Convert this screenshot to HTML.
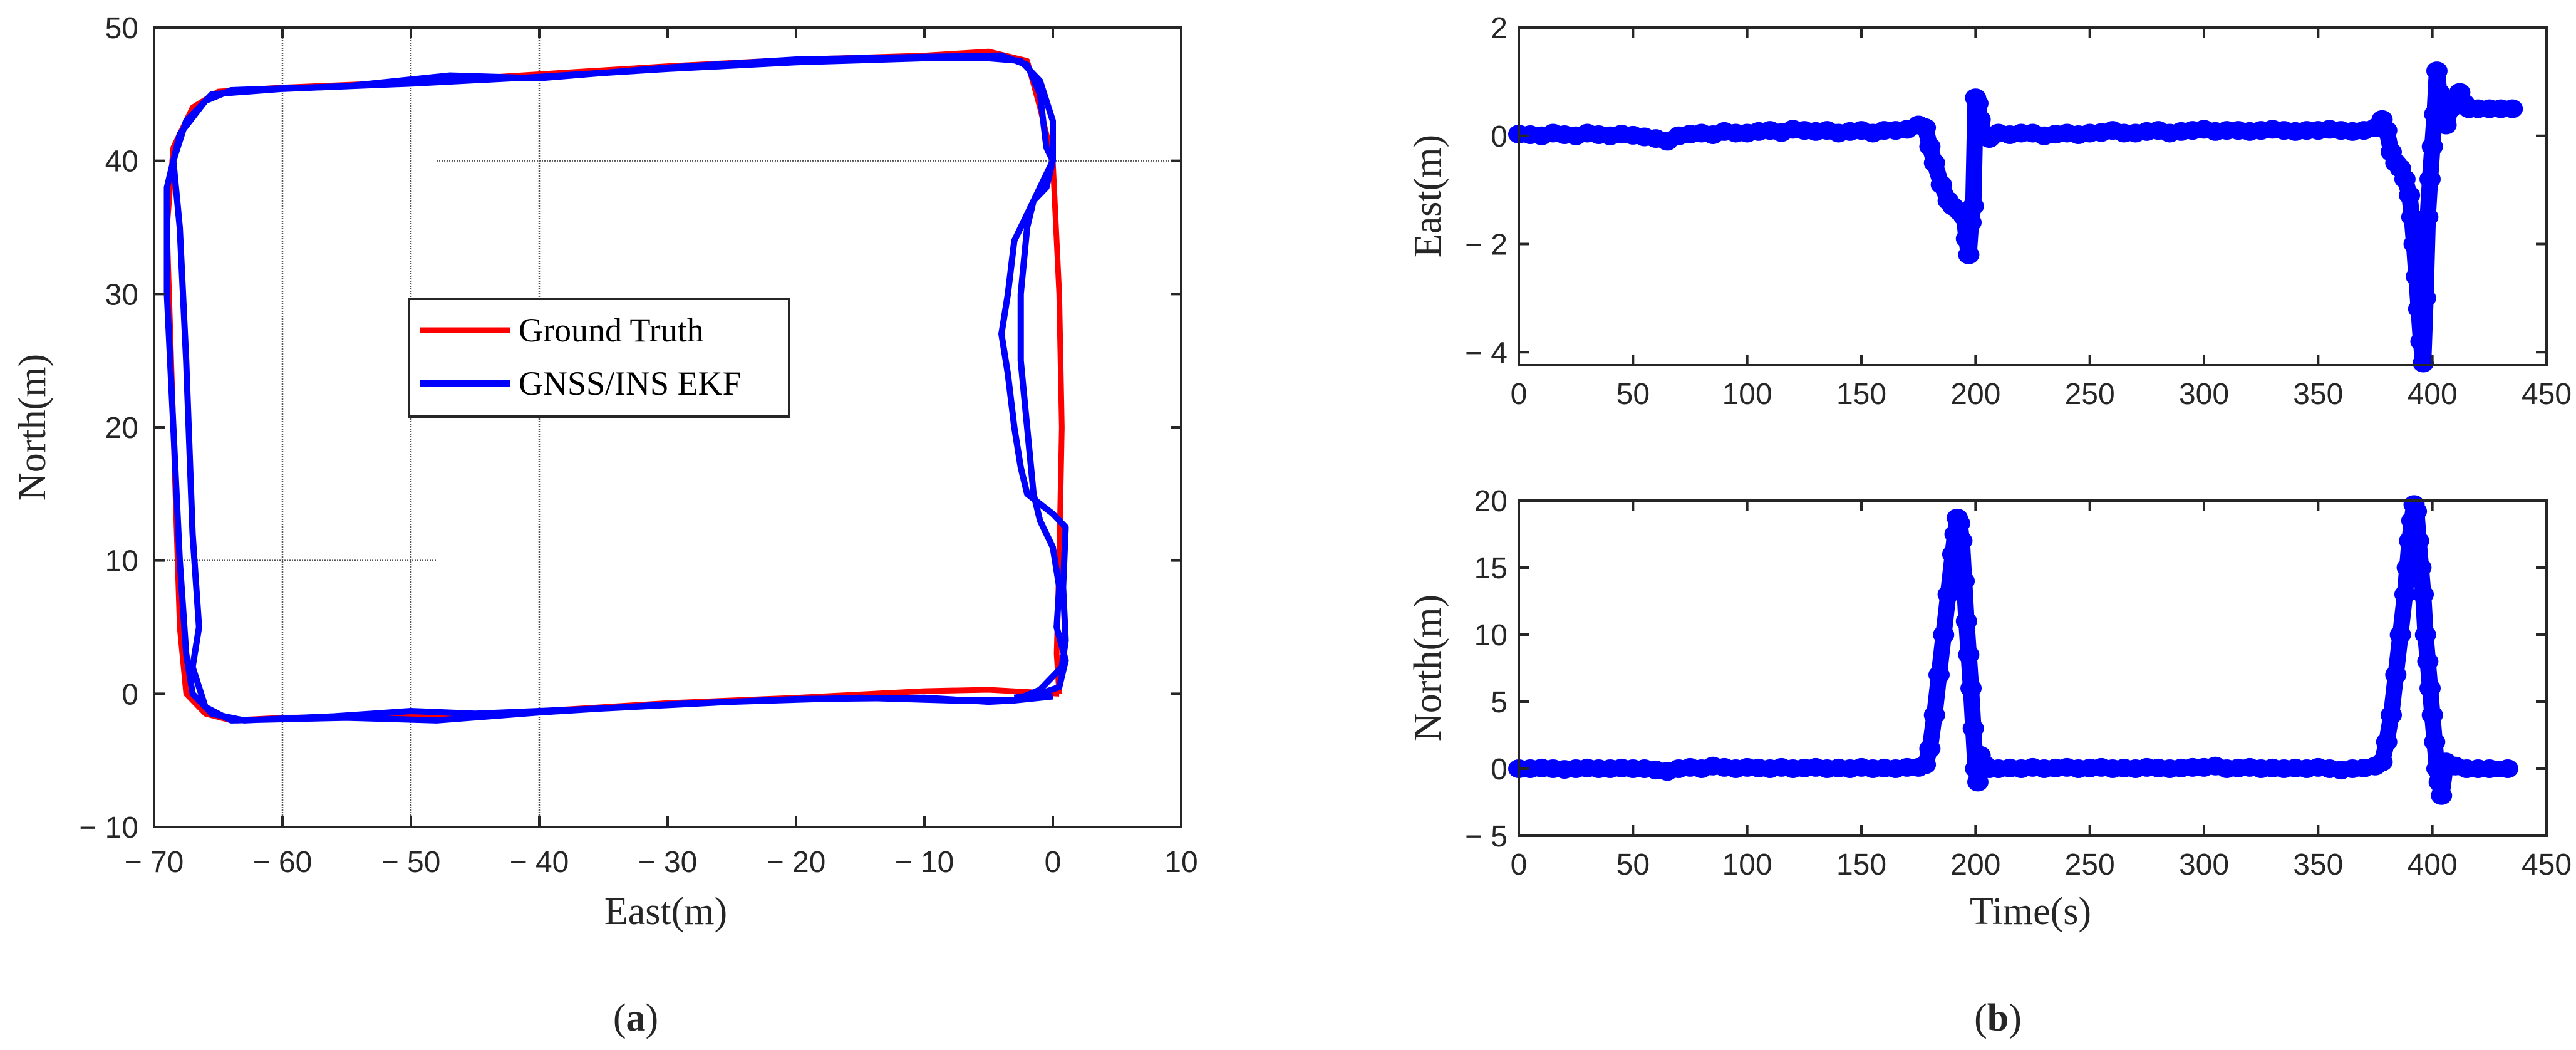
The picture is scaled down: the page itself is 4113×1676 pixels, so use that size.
<!DOCTYPE html>
<html><head><meta charset="utf-8"><style>
html,body{margin:0;padding:0;background:#fff;}
svg{display:block;}
.tk{font-family:"Liberation Sans",Arial,sans-serif;font-size:48px;fill:#262626;}
.lb{font-family:"Liberation Serif",serif;font-size:62px;fill:#262626;}
.lg{font-family:"Liberation Serif",serif;font-size:54px;fill:#000;}
</style></head><body>
<svg id="fig" width="4113" height="1676" viewBox="0 0 4113 1676" xmlns="http://www.w3.org/2000/svg">
<g id="pa"></g>
<g id="pb1"></g>
<g id="pb2"></g>
<text class="lb" x="1063" y="1475" text-anchor="middle">East(m)</text>
<text class="lb" transform="translate(72,682) rotate(-90)" text-anchor="middle">North(m)</text>
<text class="lb" transform="translate(2300,313) rotate(-90)" text-anchor="middle">East(m)</text>
<text class="lb" transform="translate(2300,1066) rotate(-90)" text-anchor="middle">North(m)</text>
<text class="lb" x="3242" y="1475" text-anchor="middle">Time(s)</text>
<text class="lb" x="1015" y="1645" text-anchor="middle">(<tspan font-weight="bold">a</tspan>)</text>
<text class="lb" x="3190" y="1645" text-anchor="middle">(<tspan font-weight="bold">b</tspan>)</text>
</svg>
<script>
// ---- Trajectory data ----
const gtEast=[0.5,-5,-10,-20,-30,-40,-50,-60,-64,-66,-67.5,-68,-68.5,-69,-68.5,-67,-65,-60,-50,-40,-30,-20,-10,-5,-2,-1,0,0.5,0.7,0.5,0.3,0.5];
const gtNorth=[0,0.3,0.2,-0.3,-0.7,-1.3,-1.7,-1.8,-2,-1.5,0,5,20,35,41,44,45.2,45.5,45.9,46.5,47.1,47.6,47.9,48.2,47.5,44,40,30,20,10,3,0];
const ekfEast=[0,-3,-8,-15,-25,-35,-45,-50,-56,-63,-65.5,-67,-67.5,-68,-68.5,-69,-69,-68,-66,-64,-55,-47,-40,-30,-20,-10,-4,-2,-1,-0.5,0,-1,-2,-3,-3.5,-4,-3.5,-3,-2.5,-2,0,1,0.8,1,0.7,-1,-3,-5,-10,-20,-30,-40,-48,-55,-64,-66,-67,-66.5,-67,-67.5,-68,-68.5,-67.5,-65.5,-60,-50,-40,-30,-20,-10,-5,-2.5,-1,0,0,-0.5,-1.5,-2,-2.5,-2.5,-2,-1.5,-1,0,0.5,0.3,1,0.5,-1,-3];
const ekfNorth=[-0.2,-0.5,-0.5,-0.3,-0.6,-1.1,-1.5,-1.3,-1.7,-2,-1.5,0,3,10,20,30,38,42,44.5,45.3,45.6,46.4,46.2,47,47.6,47.8,47.9,47.2,45,41,40,38,36,34,30,27,24,20,17,15,13.5,12.5,8,4,2,0.3,-0.5,-0.6,-0.3,-0.4,-0.8,-1.4,-2,-1.8,-2,-1,2,5,12,25,35,40,43,45,45.4,45.8,46.3,46.9,47.4,47.7,47.7,47.5,46,43,40,38,37,35,30,25,20,15,13,11,8,5,2.5,0.5,0,-0.3];
const aXTicks=[-70,-60,-50,-40,-30,-20,-10,0,10];
const aYTicks=[-10,0,10,20,30,40,50];
// ---- Time series data ----
const tEast=[0,5,10,15,20,25,30,35,40,45,50,55,60,65,70,75,80,85,90,95,100,105,110,115,120,125,130,135,140,145,150,155,160,165,170,175,178,180,182,185,188,190,193,195,196,197,198,199,200,201,202,204,206,210,215,220,225,230,235,240,245,250,255,260,265,270,275,280,285,290,295,300,305,310,315,320,325,330,335,340,345,350,355,360,365,370,375,378,380,382,384,386,388,390,391,392,393,394,395,396,397,398,399,400,401,402,403,404,405,406,408,410,412,414,416,420,425,430,435];
const vEast=[0.03,0.02,0,0.05,0.02,0,0.05,0.02,0,0.03,0.01,-0.02,-0.05,-0.1,0,0.03,0.05,0.02,0.08,0.05,0.05,0.08,0.1,0.06,0.12,0.1,0.08,0.1,0.05,0.08,0.1,0.05,0.1,0.1,0.12,0.2,0.15,-0.2,-0.5,-0.9,-1.2,-1.3,-1.4,-1.5,-1.9,-2.2,-1.6,-1.3,0.7,0.6,0.3,0,-0.05,0.05,0.02,0.05,0.05,0,0.03,0.05,0.02,0.05,0.06,0.1,0.05,0.05,0.08,0.1,0.05,0.08,0.1,0.12,0.08,0.1,0.1,0.08,0.1,0.12,0.1,0.08,0.1,0.1,0.12,0.1,0.08,0.1,0.15,0.3,0.1,-0.3,-0.5,-0.6,-0.8,-1.1,-1.5,-2.0,-2.6,-3.2,-3.8,-4.2,-3.0,-1.5,-0.8,-0.2,0.4,1.2,0.8,0.3,0.4,0.2,0.5,0.7,0.8,0.6,0.5,0.5,0.5,0.5,0.5,0.5];
const tNorth=[0,5,10,15,20,25,30,35,40,45,50,55,60,65,70,75,80,85,90,95,100,105,110,115,120,125,130,135,140,145,150,155,160,165,170,175,178,180,182,184,186,188,190,191,192,193,194,195,196,197,198,199,200,201,202,204,206,210,215,220,225,230,235,240,245,250,255,260,265,270,275,280,285,290,295,300,305,310,315,320,325,330,335,340,345,350,355,360,365,370,375,378,380,382,384,386,388,389,390,391,392,393,394,395,396,397,398,399,400,401,402,403,404,406,410,415,420,425,433];
const vNorth=[0,0,0.05,0,-0.05,0,0.05,0,0,0.05,0,0,-0.1,-0.2,0,0.1,0,0.2,0.1,0,0.1,0.05,0,0.1,0,0.05,0.1,0,0.05,0,0.1,0,0.05,0,0.1,0.1,0.3,1.5,4,7,10,13,16,17.5,18.7,18.3,17,14,11,8.5,6,3,0,-1,1,0.3,0,0,0.05,0,0.1,0,0.05,0.1,0,0.05,0.1,0,0.05,0,0.1,0.05,0,0.05,0.1,0.1,0.2,0,0.05,0.1,0,0.05,0,0.05,0,0.1,0,-0.1,0,0.05,0.2,0.5,2,4,7,10,13,15,17,18.5,19.7,19.2,17,15,13,10,8,6,4,2,0,-1,-2,0.5,0.2,0,0,0,0,0,0];
const bXTicks=[0,50,100,150,200,250,300,350,400,450];
const eYTicks=[-4,-2,0,2];
const nYTicks=[-5,0,5,10,15,20];

const NS='http://www.w3.org/2000/svg';
function mk(tag,attrs,parent){const e=document.createElementNS(NS,tag);for(const k in attrs)e.setAttribute(k,attrs[k]);parent.appendChild(e);return e;}
function lab(v){return v<0?'\u2212 '+Math.abs(v):String(v);}

// ---- Plot (a) ----
const pa=document.getElementById('pa');
const aL=246,aR=1886,aT=44,aB=1320;
const ax=e=>aL+(e+70)*(aR-aL)/80;
const ay=n=>aB-(n+10)*(aB-aT)/60;
[-60,-50,-40].forEach(v=>{
  const g=mk('line',{x1:ax(v),x2:ax(v),y1:aT,y2:aB,stroke:'#555','stroke-width':2.5,'stroke-dasharray':'2 2'},pa);
  
  
});
let hg=mk('line',{x1:ax(-48),x2:aR,y1:ay(40),y2:ay(40),stroke:'#555','stroke-width':2.5,'stroke-dasharray':'2 2'},pa);


hg=mk('line',{x1:aL,x2:ax(-48),y1:ay(10),y2:ay(10),stroke:'#555','stroke-width':2.5,'stroke-dasharray':'2 2'},pa);


let gp=mk('polyline',{points:gtEast.map((e,i)=>ax(e)+','+ay(gtNorth[i])).join(' '),fill:'none',stroke:'#ff0000','stroke-width':9,'stroke-linejoin':'round'},pa);


let bp=mk('polyline',{points:ekfEast.map((e,i)=>ax(e)+','+ay(ekfNorth[i])).join(' '),fill:'none',stroke:'#0000ff','stroke-width':10,'stroke-linejoin':'round'},pa);


function frame(g,L,R,T,B,name){
  const f=mk('rect',{x:L,y:T,width:R-L,height:B-T,fill:'none',stroke:'#262626','stroke-width':4},g);
  
  
}
frame(pa,aL,aR,aT,aB,'axes-frame-a');
aXTicks.forEach(v=>{
  const x=ax(v);
  mk('line',{x1:x,x2:x,y1:aB,y2:aB-17,stroke:'#262626','stroke-width':4},pa);
  mk('line',{x1:x,x2:x,y1:aT,y2:aT+17,stroke:'#262626','stroke-width':4},pa);
  const t=mk('text',{x:x,y:1392,'text-anchor':'middle',class:'tk'},pa);t.textContent=lab(v);
  
  
});
aYTicks.forEach(v=>{
  const y=ay(v);
  mk('line',{x1:aL,x2:aL+17,y1:y,y2:y,stroke:'#262626','stroke-width':4},pa);
  mk('line',{x1:aR,x2:aR-17,y1:y,y2:y,stroke:'#262626','stroke-width':4},pa);
  const t=mk('text',{x:221,y:y+17,'text-anchor':'end',class:'tk'},pa);t.textContent=lab(v);
  
  
});
const lgG=mk('g',{},pa);


mk('rect',{x:653,y:477,width:607,height:188,fill:'#fff',stroke:'#262626','stroke-width':4},lgG);
mk('line',{x1:670,x2:815,y1:527,y2:527,stroke:'#ff0000','stroke-width':9},lgG);
mk('line',{x1:670,x2:815,y1:612,y2:612,stroke:'#0000ff','stroke-width':10},lgG);
let lt=mk('text',{x:828,y:545,class:'lg'},lgG);lt.textContent='Ground Truth';


lt=mk('text',{x:828,y:630,class:'lg'},lgG);lt.textContent='GNSS/INS EKF';



// ---- Plots (b) ----
const bL=2425,bR=4066;
const tx=t=>bL+t*(bR-bL)/450;
function tsPlot(g,T,B,ymin,ymax,yt,ts,vs,name){
  const y=v=>B-(v-ymin)*(B-T)/(ymax-ymin);
  const band=mk('polyline',{points:ts.map((t,i)=>tx(t)+','+y(vs[i])).join(' '),fill:'none',stroke:'#0000ff','stroke-width':26,'stroke-linejoin':'round','stroke-linecap':'round'},g);
  
  
  ts.forEach((t,i)=>{
    const c=mk('ellipse',{cx:tx(t),cy:y(vs[i]),rx:17,ry:15,fill:'#0000ff'},g);
    
    
  });
  frame(g,bL,bR,T,B,name+'-frame');
  bXTicks.forEach(v=>{
    const x=tx(v);
    mk('line',{x1:x,x2:x,y1:B,y2:B-17,stroke:'#262626','stroke-width':4},g);
    mk('line',{x1:x,x2:x,y1:T,y2:T+17,stroke:'#262626','stroke-width':4},g);
    const t=mk('text',{x:x,y:B+62,'text-anchor':'middle',class:'tk'},g);t.textContent=lab(v);
    
    
  });
  yt.forEach(v=>{
    const yy=y(v);
    mk('line',{x1:bL,x2:bL+17,y1:yy,y2:yy,stroke:'#262626','stroke-width':4},g);
    mk('line',{x1:bR,x2:bR-17,y1:yy,y2:yy,stroke:'#262626','stroke-width':4},g);
    const t=mk('text',{x:2407,y:yy+17,'text-anchor':'end',class:'tk'},g);t.textContent=lab(v);
    
    
  });
}
tsPlot(document.getElementById('pb1'),44,583,-4.24,2,eYTicks,tEast,vEast,'east-error');
tsPlot(document.getElementById('pb2'),799,1334,-5,20,nYTicks,tNorth,vNorth,'north-error');
</script>
</body></html>
